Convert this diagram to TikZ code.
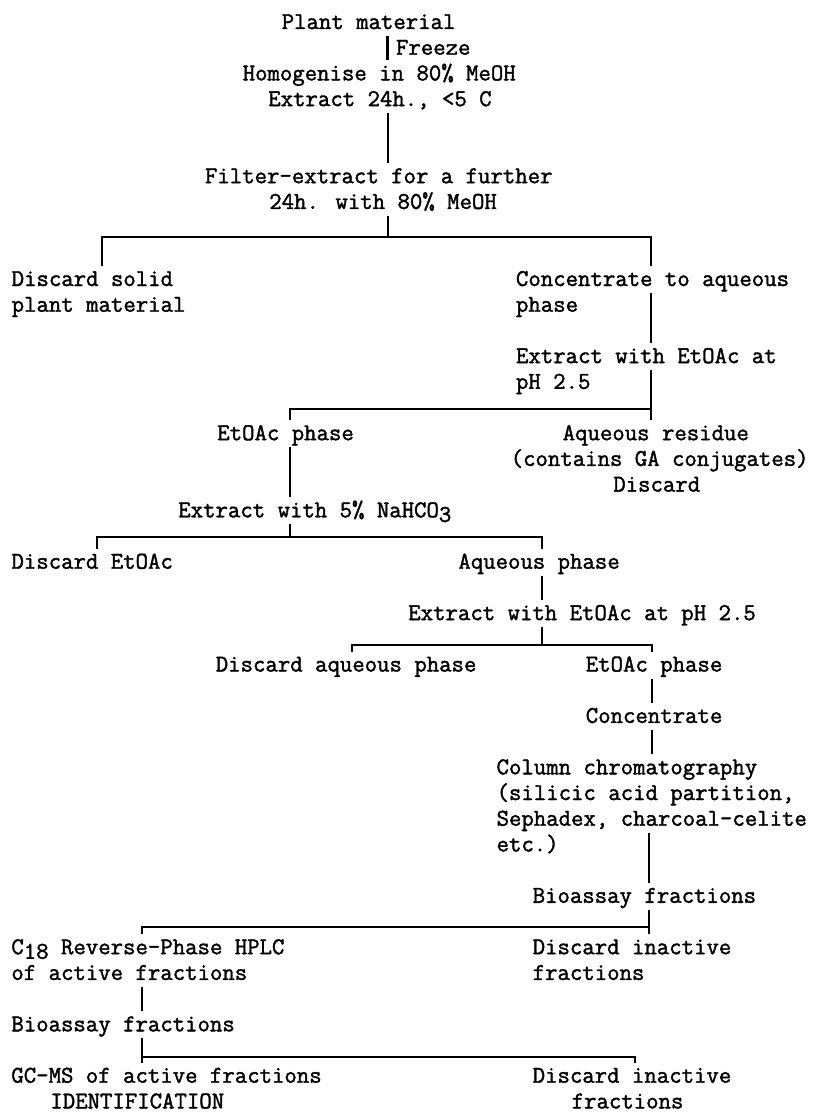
\documentclass[tikz,border=0pt]{standalone}
\usepackage{fontspec}
\newfontfamily\twfont{Latin Modern Mono}[FakeBold=1.6]
\newcommand\lowr[1]{\raisebox{-0.19em}{#1}}
\begin{document}
\begin{tikzpicture}[x=1pt,y=-1pt,
  txt/.style={anchor=base west,inner sep=0pt,outer sep=0pt,text height=20pt,text depth=7pt,
    font=\twfont\fontsize{24.1pt}{26pt}\selectfont},
  ln/.style={line width=2.4pt,line cap=butt,line join=miter}]
\useasboundingbox[fill=white] (0,0) rectangle (820,1113);
\newcommand\T[4]{\node[txt] (#1) at (#2,{29+25.7*#3}) {#4};}
% texts
\T{plant}{281.7}{0}{Plant material}
\T{freeze}{396}{1}{Freeze}
\T{homog}{242.7}{2}{Homogenise in 80\% MeOH}
\T{extA}{268.3}{3}{Extract 24h., <5 C}
\T{filtA}{205}{6}{Filter-extract for a further}
\T{filtB}{269.3}{7}{24h. with 80\% MeOH}
\T{dsolA}{11.7}{10}{Discard solid}
\T{dsolB}{11.7}{11}{plant material}
\T{concA}{516}{10}{Concentrate to aqueous}
\T{concB}{516}{11}{phase}
\T{extBa}{516}{13}{Extract with EtOAc at}
\T{extBb}{516}{14}{pH 2.5}
\T{etphA}{217.3}{16}{EtOAc phase}
\T{aqresA}{562.7}{16}{Aqueous residue}
\T{aqresB}{510.7}{17}{(contains GA conjugates)}
\T{aqresC}{613.3}{18}{Discard}
\T{extC}{178.3}{19}{Extract with 5\% NaHCO\lowr{3}}
\T{detoac}{11.5}{21}{Discard EtOAc}
\T{aqph}{458.4}{21}{Aqueous phase}
\T{extD}{408.3}{23}{Extract with EtOAc at pH 2.5}
\T{daq}{215.8}{25}{Discard aqueous phase}
\T{etphB}{585.8}{25}{EtOAc phase}
\T{concC}{585.8}{27}{Concentrate}
\T{colA}{496.6}{29}{Column chromatography}
\T{colB}{496.6}{30}{(silicic acid partition,}
\T{colC}{496.6}{31}{Sephadex, charcoal-celite}
\T{colD}{496.6}{32}{etc.)}
\T{bioA}{532.7}{34}{Bioassay fractions}
\T{hplcA}{11.4}{36}{C\lowr{18} Reverse-Phase HPLC}
\T{hplcB}{11.4}{37}{of active fractions}
\T{dinaA}{532.7}{36}{Discard inactive}
\T{dinaB}{532.7}{37}{fractions}
\T{bioB}{11.4}{39}{Bioassay fractions}
\T{gcmsA}{11.4}{41}{GC-MS of active fractions}
\T{gcmsB}{50.4}{42}{IDENTIFICATION}
\T{dinbA}{532.7}{41}{Discard inactive}
\T{dinbB}{571.7}{42}{fractions}
% branch coordinates
\coordinate (t0) at (387.5,0);
\coordinate (t1) at (388,0);
\coordinate (h1L) at (101.7,237);
\coordinate (h1R) at (650.7,237);
\coordinate (h2L) at (290,409);
\coordinate (h2R) at (650.7,409);
\coordinate (h3L) at (96.7,537);
\coordinate (h3R) at (541.7,537);
\coordinate (h4L) at (352,645);
\coordinate (h4R) at (651.7,645);
\coordinate (t5) at (649,0);
\coordinate (h5L) at (142,927);
\coordinate (h5R) at (649,927);
\coordinate (h6L) at (142,1057);
\coordinate (h6R) at (635,1057);
% connectors
\draw[ln] (plant.south -| t0) -- (homog.north -| t0);
\draw[ln] (extA.south -| t1) -- (filtA.north -| t1);
\draw[ln] (filtB.south -| t1) -- (t1 |- h1L);
\draw[ln] (dsolA.north -| h1L) -- (h1L) -- (h1R) -- (concA.north -| h1R);
\draw[ln] (concA.south -| h1R) -- (extBa.north -| h1R);
\draw[ln] (extBa.south -| h2R) -- (h2R);
\draw[ln] (etphA.north -| h2L) -- (h2L) -- (h2R) -- (aqresA.north -| h2R);
\draw[ln] (etphA.south -| h2L) -- (extC.north -| h2L);
\draw[ln] (extC.south -| h2L) -- (h2L |- h3L);
\draw[ln] (detoac.north -| h3L) -- (h3L) -- (h3R) -- (aqph.north -| h3R);
\draw[ln] (aqph.south -| h3R) -- (extD.north -| h3R);
\draw[ln] (extD.south -| h3R) -- (h3R |- h4L);
\draw[ln] (daq.north -| h4L) -- (h4L) -- (h4R) -- (etphB.north -| h4R);
\draw[ln] (etphB.south -| h4R) -- (concC.north -| h4R);
\draw[ln] (concC.south -| h4R) -- (colA.north -| h4R);
\draw[ln] (colC.south -| t5) -- (bioA.north -| t5);
\draw[ln] (bioA.south -| t5) -- (dinaA.north -| t5);
\draw[ln] (hplcA.north -| h5L) -- (h5L) -- (h5R);
\draw[ln] (hplcB.south -| h5L) -- (bioB.north -| h5L);
\draw[ln] (bioB.south -| h6L) -- (gcmsA.north -| h6L);
\draw[ln] (h6L) -- (h6R) -- (dinbA.north -| h6R);
\end{tikzpicture}
\end{document}
